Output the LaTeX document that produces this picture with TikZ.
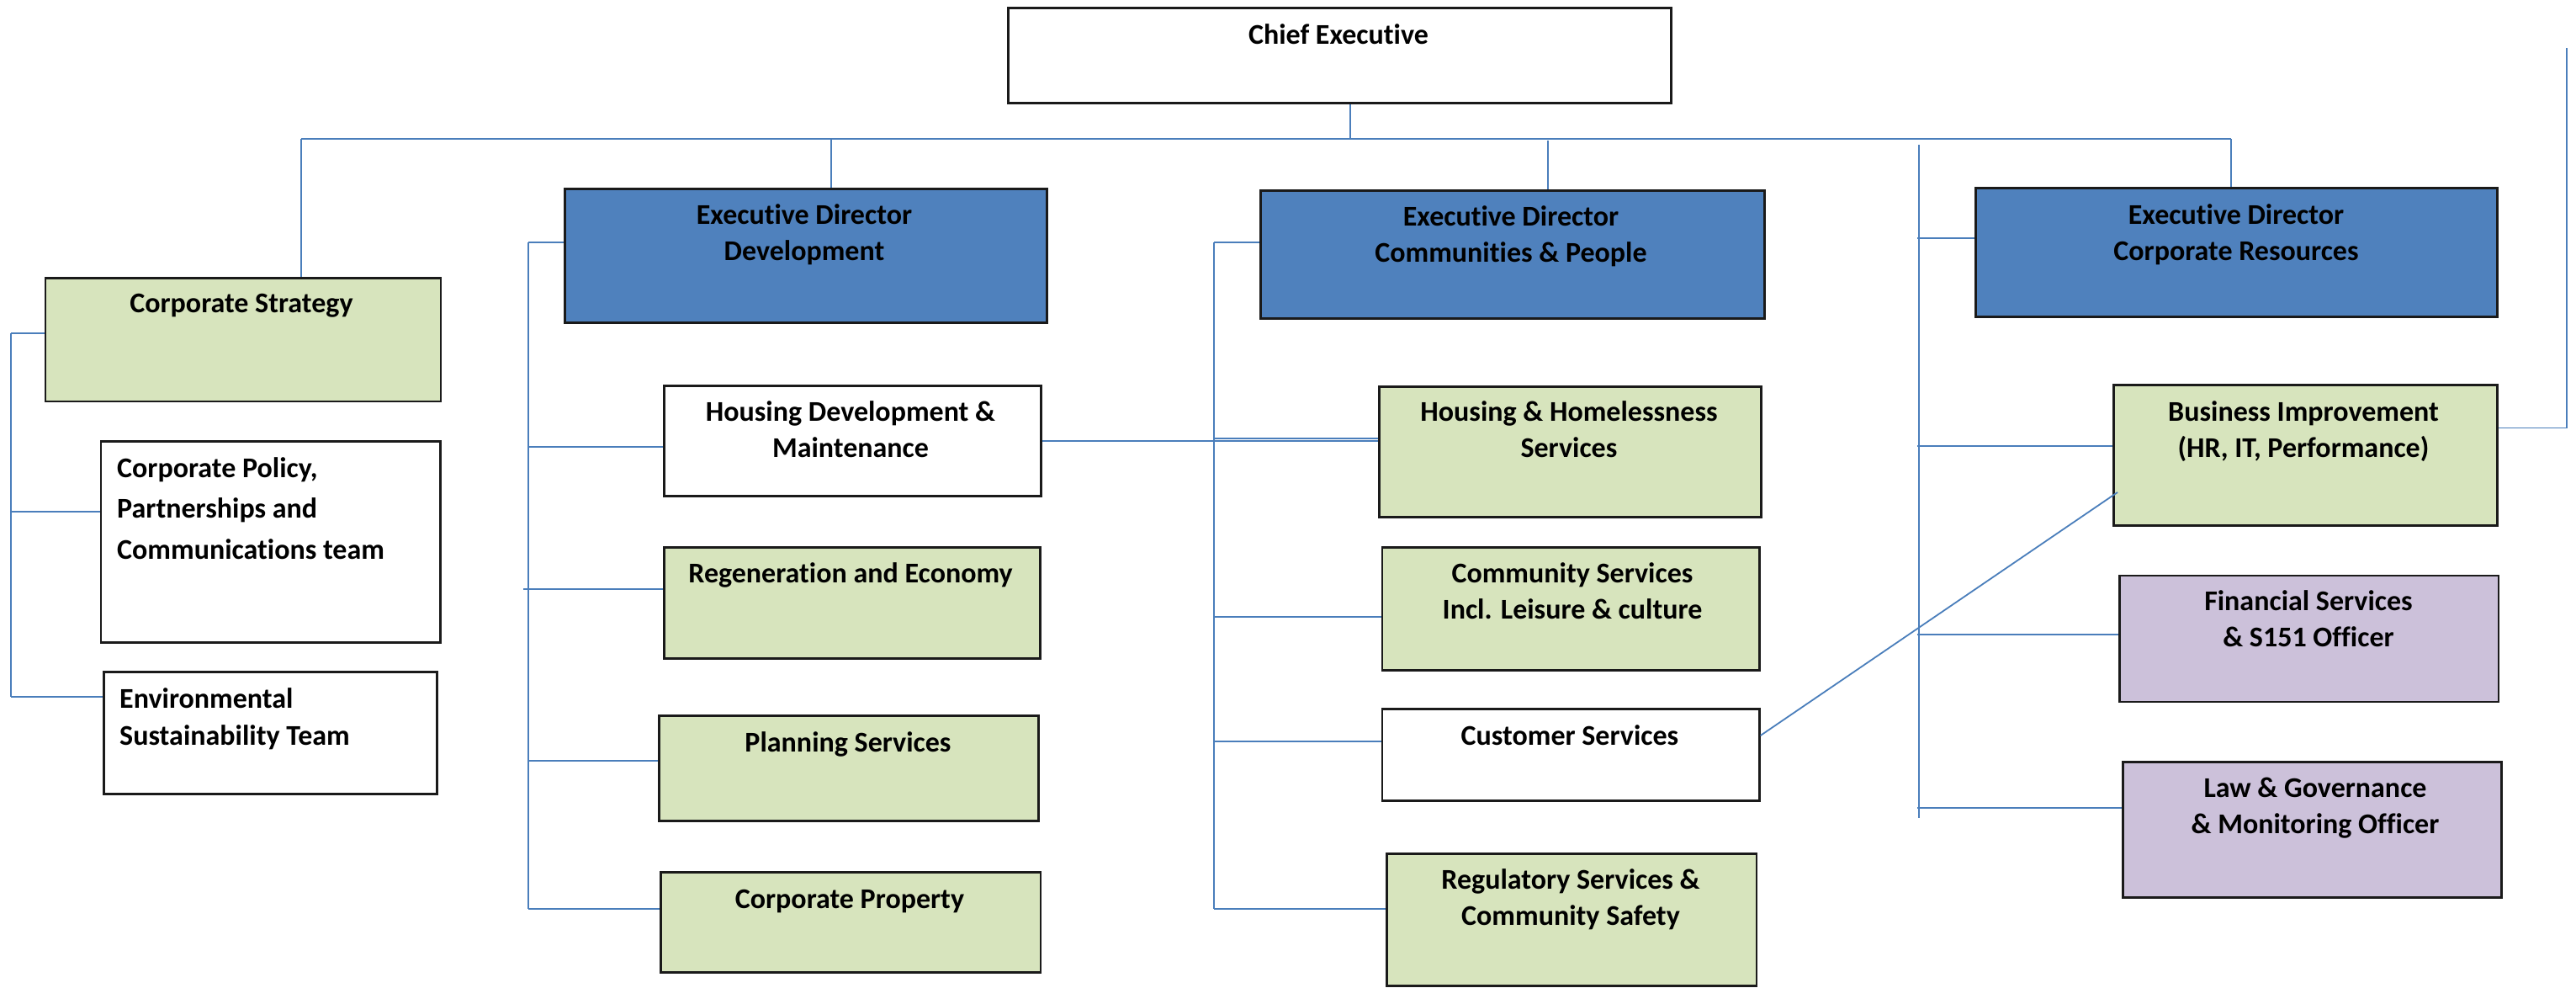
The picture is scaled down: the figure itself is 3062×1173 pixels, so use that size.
\documentclass[tikz,border=0pt]{standalone}
\usepackage{fontspec}
\newfontfamily\carl{Carlito}[Ligatures=NoCommon]
\definecolor{edblue}{HTML}{4F81BD}
\definecolor{lgreen}{HTML}{D7E4BD}
\definecolor{lpurple}{HTML}{CCC1DA}
\definecolor{lineblue}{HTML}{4A7EBB}
\definecolor{bord}{HTML}{1A1A1A}
\tikzset{
  box/.style={draw=bord, line width=2.6pt, inner sep=0pt, anchor=north west},
  lbl/.style={font=\carl\bfseries\fontsize{34}{43}\selectfont, inner sep=0pt, align=center, text=black},
  lbll/.style={font=\carl\bfseries\fontsize{34}{43}\selectfont, inner sep=0pt, align=left, anchor=west, text=black},
  conn/.style={draw=lineblue, line width=1.8pt},
}
\begin{document}
\begin{tikzpicture}[x=1pt,y=-1pt]
\useasboundingbox (0,0) rectangle (3062,1173);
% boxes
\node[box, fill=white, minimum width=788pt, minimum height=113pt] (chief) at (1197,8) {};
\node[box, fill=edblue, minimum width=573pt, minimum height=159pt] (dev) at (670,223) {};
\node[box, fill=edblue, minimum width=599pt, minimum height=152pt] (comm) at (1497,225) {};
\node[box, fill=edblue, minimum width=620pt, minimum height=153pt] (cr) at (2347,222) {};
\node[box, fill=lgreen, minimum width=470pt, minimum height=146.7pt] (cs) at (52.6,329) {};
\node[box, fill=white, minimum width=403.4pt, minimum height=239pt] (cp) at (118.6,523) {};
\node[box, fill=white, minimum width=396pt, minimum height=145pt] (env) at (122,797) {};
\node[box, fill=white, minimum width=448pt, minimum height=131pt] (hd) at (788,457) {};
\node[box, fill=lgreen, minimum width=447pt, minimum height=132pt] (regen) at (788,649) {};
\node[box, fill=lgreen, minimum width=451pt, minimum height=125pt] (plan) at (782,849) {};
\node[box, fill=lgreen, minimum width=451.5pt, minimum height=119pt] (prop) at (784,1035) {};
\node[box, fill=lgreen, minimum width=454pt, minimum height=155pt] (hh) at (1638,458) {};
\node[box, fill=lgreen, minimum width=448.4pt, minimum height=146pt] (csv) at (1641.6,649) {};
\node[box, fill=white, minimum width=448.4pt, minimum height=109pt] (cust) at (1641.6,841) {};
\node[box, fill=lgreen, minimum width=439.5pt, minimum height=157pt] (reg) at (1647,1013) {};
\node[box, fill=lgreen, minimum width=456pt, minimum height=167pt] (bi) at (2511,456) {};
\node[box, fill=lpurple, minimum width=450.5pt, minimum height=150pt] (fin) at (2518,682.5) {};
\node[box, fill=lpurple, minimum width=450pt, minimum height=161pt] (law) at (2522,904) {};
% labels
\node[lbl] (chief-t) at (1591,41) {Chief Executive};
\node[lbl] (dev-t) at (956,279) {Executive Director\\Development};
\node[lbl] (comm-t) at (1796,281) {Executive Director\\Communities \& People};
\node[lbl] (cr-t) at (2658,279) {Executive Director\\Corporate Resources};
\node[lbl] (cs-t) at (287,363) {Corporate Strategy};
\node[lbll, font=\carl\bfseries\fontsize{34}{48.6}\selectfont] (cp-t) at (139,604) {Corporate Policy,\\Partnerships and\\Communications team};
\node[lbll, font=\carl\bfseries\fontsize{34}{43.7}\selectfont] (env-t) at (142,854) {Environmental\\Sustainability Team};
\node[lbl] (hd-t) at (1011,510) {Housing Development \&\\Maintenance};
\node[lbl] (regen-t) at (1011,683.5) {Regeneration and Economy};
\node[lbl] (plan-t) at (1008,884.5) {Planning Services};
\node[lbl] (prop-t) at (1010,1071.5) {Corporate Property};
\node[lbl] (hh-t) at (1865,510.5) {Housing \& Homelessness\\Services};
\node[lbl] (csv-t) at (1869,702.5) {Community Services\\Incl. Leisure \& culture};
\node[lbl] (cust-t) at (1866,874) {Customer Services};
\node[lbl] (reg-t) at (1867,1069) {Regulatory Services \&\\Community Safety};
\node[lbl] (bi-t) at (2738,513) {Business Improvement\\(HR, IT, Performance)};
\node[lbl] (fin-t) at (2744,735) {Financial Services\\\& S151 Officer};
\node[lbl] (law-t) at (2752,960) {Law \& Governance\\\& Monitoring Officer};
% top bus
\coordinate (bL) at (358,165);
\coordinate (bR) at (2652,165);
\coordinate (bC) at (1605,165);
\coordinate (bD) at (988,165);
\coordinate (bM) at (1840,167);
\draw[conn] (bL) -- (bR);
\draw[conn] (chief.south -| bC) -- (bC);
\draw[conn] (bL) -- (bL |- cs.north);
\draw[conn] (bD) -- (bD |- dev.north);
\draw[conn] (bM) -- (bM |- comm.north);
\draw[conn] (bR) -- (bR |- cr.north);
% left bracket
\coordinate (lT) at (12.6,396);
\coordinate (lP) at (12.6,608);
\coordinate (lB) at (12.6,828);
\draw[conn] (lT) -- (lB);
\draw[conn] (lT) -- (lT -| cs.west);
\draw[conn] (lP) -- (lP -| cp.west);
\draw[conn] (lB) -- (lB -| env.west);
% development bracket
\coordinate (dT) at (628,288);
\coordinate (dB) at (628,1080);
\coordinate (d1) at (628,531);
\coordinate (d2) at (622,700);
\coordinate (d3) at (628,904);
\draw[conn] (dT) -- (dB);
\draw[conn] (dT) -- (dT -| dev.west);
\draw[conn] (d1) -- (d1 -| hd.west);
\draw[conn] (d2) -- (d2 -| regen.west);
\draw[conn] (d3) -- (d3 -| plan.west);
\draw[conn] (dB) -- (dB -| prop.west);
% communities bracket
\coordinate (mT) at (1443,288);
\coordinate (mB) at (1443,1080);
\coordinate (m1) at (1443,521);
\coordinate (m2) at (1443,733);
\coordinate (m3) at (1443,881);
\draw[conn] (mT) -- (mB);
\draw[conn] (mT) -- (mT -| comm.west);
\draw[conn] (m1) -- (m1 -| hh.west);
\draw[conn] (m2) -- (m2 -| csv.west);
\draw[conn] (m3) -- (m3 -| cust.west);
\draw[conn] (mB) -- (mB -| reg.west);
\draw[conn] (hd.east) -- (hd.east -| hh.west);
% corporate resources bracket
\coordinate (rT) at (2281,172);
\coordinate (rB) at (2281,972);
\coordinate (r0) at (2279,283);
\coordinate (r1) at (2279,530);
\coordinate (r2) at (2279,754);
\coordinate (r3) at (2279,960);
\draw[conn] (rT) -- (rB);
\draw[conn] (r0) -- (r0 -| cr.west);
\draw[conn] (r1) -- (r1 -| bi.west);
\draw[conn] (r2) -- (r2 -| fin.west);
\draw[conn] (r3) -- (r3 -| law.west);
% right link
\coordinate (e1) at (3051,508.5);
\coordinate (e2) at (3051,57);
\draw[conn] (e1 -| bi.east) -- (e1) -- (e2);
% diagonal
\coordinate (k1) at (2090,874);
\coordinate (k2) at (2517,585);
\draw[conn] (cust.east |- k1) -- (k2);
\end{tikzpicture}
\end{document}
